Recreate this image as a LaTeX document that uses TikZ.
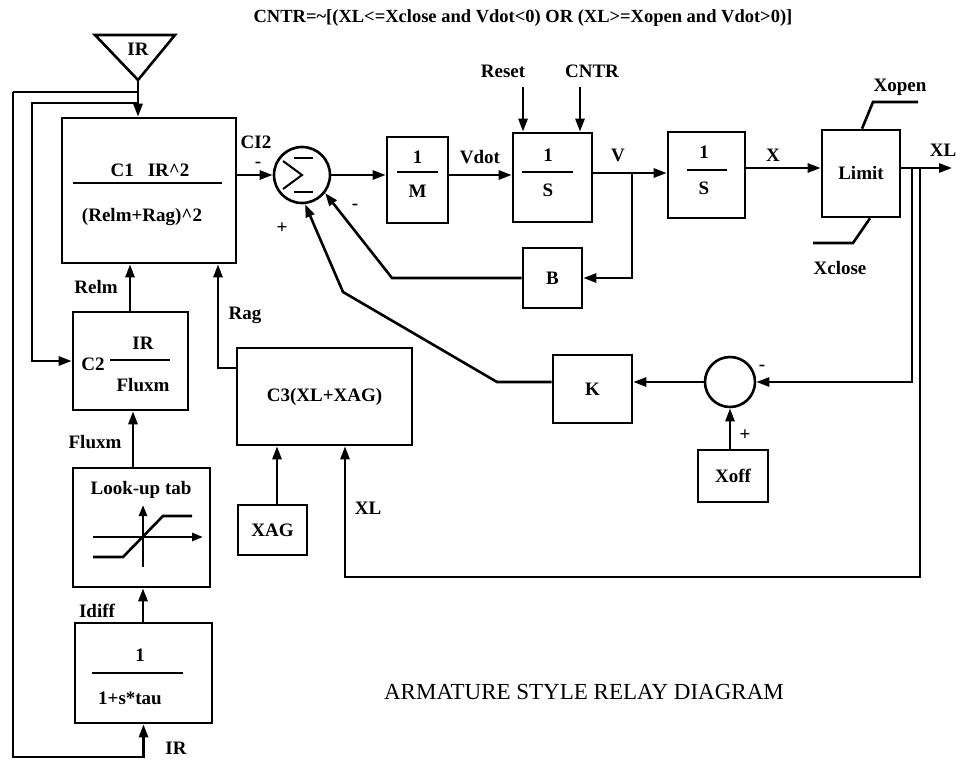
\documentclass[tikz,border=0pt]{standalone}
\usepackage{fontspec}
\setmainfont{Liberation Serif}
\usetikzlibrary{arrows.meta,calc}
\tikzset{
  blk/.style={draw,line width=2.6pt,inner sep=0pt,font=\lbl},
  sumc/.style={draw,circle,line width=2.6pt,inner sep=0pt},
  arr/.style={line width=2.6pt,-{Triangle[length=13pt,width=9pt]}},
  ln/.style={line width=2.6pt},
  thinln/.style={line width=2pt},
  txt/.style={inner sep=0pt,font=\lbl},
}
\newcommand{\lbl}{\fontsize{19}{22}\selectfont\bfseries}
\begin{document}
\begin{tikzpicture}[x=1pt,y=-1pt]
\useasboundingbox (0,0) rectangle (960,762);
% title
\node[inner sep=0pt,font=\fontsize{18.5}{22}\selectfont\bfseries] (title) at (523,18) {CNTR=\textasciitilde[(XL<=Xclose and Vdot<0) OR (XL>=Xopen and Vdot>0)]};
% IR triangle
\draw[ln] (95,35) -- (175,35) -- (138,80) -- cycle;
\node[txt] (irin) at (138,49) {IR};
\coordinate (irtip) at (138,80);
\coordinate (j1) at (138,92);
\coordinate (j2) at (138,103);
% blocks
\node[blk,minimum width=174pt,minimum height=145pt] (c1) at (149,190.5) {};
\node[txt] (c1num) at (150,170) {C1\hspace{14pt}IR\textasciicircum2};
\draw[ln] (73,183) -- (222,183);
\node[txt] (c1den) at (142,217) {(Relm+Rag)\textasciicircum2};
\node[sumc,minimum size=56pt] (sum) at (302,175) {};
\draw[thinln] (294,158) -- (313,158);
\draw[thinln] (294,192) -- (313,192);
\draw[thinln] (283,161) -- (302,175) -- (283,189);
\node[blk,minimum width=61pt,minimum height=86pt] (m) at (417.5,180) {};
\draw[ln] (397,172) -- (438,172);
\node[txt] (m1) at (417.5,157) {1};
\node[txt] (m2) at (417.5,191) {M};
\node[blk,minimum width=79pt,minimum height=89pt] (s1) at (552.5,177.5) {};
\draw[ln] (522,172) -- (573,172);
\node[txt] (s11) at (548,155) {1};
\node[txt] (s12) at (548,190) {S};
\node[blk,minimum width=77pt,minimum height=86pt] (s2) at (706.5,175) {};
\draw[ln] (687,170) -- (727,170);
\node[txt] (s21) at (704,152) {1};
\node[txt] (s22) at (704,188) {S};
\node[blk,minimum width=78pt,minimum height=87pt] (lim) at (861,173.5) {Limit};
\node[blk,minimum width=59pt,minimum height=60pt] (b) at (552.5,278) {B};
\node[blk,minimum width=79pt,minimum height=68pt] (k) at (592.5,389) {K};
\node[sumc,minimum size=50pt] (sum2) at (730,382) {};
\node[blk,minimum width=70pt,minimum height=52pt] (xoff) at (733,476) {Xoff};
\node[blk,minimum width=175pt,minimum height=97pt] (c3) at (324.5,396.5) {C3(XL+XAG)};
\node[blk,minimum width=69pt,minimum height=50pt] (xag) at (272.5,530) {XAG};
\node[blk,minimum width=115pt,minimum height=98pt] (c2) at (130.5,361) {};
\node[txt] (c2a) at (93,364) {C2};
\draw[ln] (110,360) -- (170,360);
\node[txt] (c2b) at (143,343) {IR};
\node[txt] (c2c) at (143,385) {Fluxm};
\node[blk,minimum width=137pt,minimum height=119pt] (lut) at (141.5,527.5) {};
\node[txt] (luta) at (141,490) {Look-up tab};
\draw[ln,-{Triangle[length=11pt,width=8pt]}] (93,537) -- (203,537);
\draw[ln,-{Triangle[length=11pt,width=8pt]}] (143,567) -- (143,505);
\draw[ln] (93,557) -- (123,557) -- (163,516) -- (192,516);
\node[blk,minimum width=137pt,minimum height=100pt] (lag) at (143.5,673) {};
\node[txt] (lag1) at (140,655) {1};
\draw[ln] (92,673) -- (183,673);
\node[txt] (lag2) at (130,698) {1+s*tau};
% connectors
\draw[arr] (irtip) -- (irtip |- c1.north);
\draw[ln] (j1) -- (13,92);
\draw[arr] (13,92) -- (13,757) -| (lag.south);
\draw[arr] (j2) -- (32,103) |- (c2.west);
\draw[arr] (c1.east |- sum) -- (sum.west);
\draw[arr] (sum.east) -- (sum.east -| m.west);
\draw[arr] (m.east |- sum) -- (s1.west |- sum);
\coordinate (vrow) at (600,173);
\draw[arr] (s1.east |- vrow) -- (s2.west |- vrow);
\coordinate (vb) at (632,173);
\draw[arr] (vb) |- (b.east);
\draw[arr] (b.west) -- (392,278) -- (sum.-38);
\draw[arr] (k.west |- sum2) -- (497,382) -- (343,292) -- (sum.-84);
\coordinate (rs) at (523,87);
\coordinate (cn) at (580,87);
\draw[arr] (rs) -- (rs |- s1.north);
\draw[arr] (cn) -- (cn |- s1.north);
\node[txt] (reset) at (503,71) {Reset};
\node[txt] (cntr) at (592,71) {CNTR};
\coordinate (xrow) at (800,168);
\draw[arr] (s2.east |- xrow) -- (lim.west |- xrow);
\coordinate (xlend) at (952,168);
\draw[arr] (lim.east |- xrow) -- (xlend);
\coordinate (d1) at (912,168);
\coordinate (d2) at (920,168);
\draw[arr] (d1) |- (sum2.east);
\coordinate (xlfb) at (345,577);
\draw[arr] (d2) |- (xlfb) -- (xlfb |- c3.south);
\draw[arr] (sum2.west) -- (sum2.west -| k.east);
\draw[arr] (xoff.north -| sum2) -- (sum2.south);
\draw[arr] (xag.north -| 277,0) -- (c3.south -| 277,0);
\coordinate (rag) at (218,368);
\draw[arr] (c3.west |- rag) -- (rag) -- (rag |- c1.south);
\draw[arr] (c2.north -| 130,0) -- (c1.south -| 130,0);
\draw[arr] (lut.north -| 133,0) -- (c2.south -| 133,0);
\draw[arr] (lag.north -| 143,0) -- (lut.south -| 143,0);
% limit lines
\draw[ln] (lim.north -| 862,0) -- (873,102) -- (918,102);
\draw[ln] (lim.south -| 870,0) -- (853,243) -- (813,243);
% labels
\node[txt] (lci2) at (256,142) {CI2};
\node[txt] (lm1) at (258,165) {-};
\node[txt] (lp1) at (282,228) {+};
\node[txt] (lm2) at (355,207) {-};
\node[txt] (lvdot) at (480,157) {Vdot};
\node[txt] (lv) at (618,155) {V};
\node[txt] (lx) at (773,155) {X};
\node[txt] (lxl) at (943,150) {XL};
\node[txt] (lxo) at (900,87) {Xopen};
\node[txt] (lxc) at (840,268) {Xclose};
\node[txt] (lm3) at (762,368) {-};
\node[txt] (lp2) at (745,435) {+};
\node[txt] (lxl2) at (368,508) {XL};
\node[txt] (lrag) at (245,315) {Rag};
\node[txt] (lrelm) at (96,287) {Relm};
\node[txt] (lflux) at (95,442) {Fluxm};
\node[txt] (lidiff) at (97,611) {Idiff};
\node[txt] (lir) at (176,748) {IR};
\node[inner sep=0pt,font=\fontsize{23}{26}\selectfont] (cap) at (584,692) {ARMATURE STYLE RELAY DIAGRAM};
\end{tikzpicture}
\end{document}
